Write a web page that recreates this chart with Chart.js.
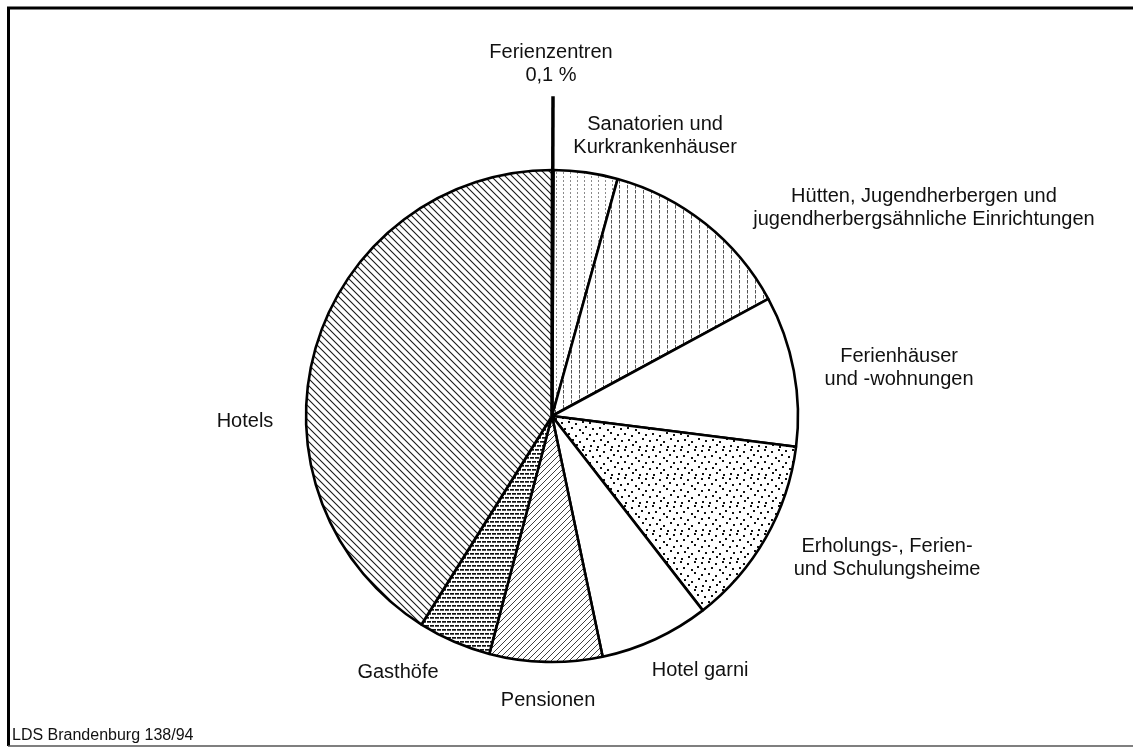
<!DOCTYPE html>
<html>
<head>
<meta charset="utf-8">
<script src="https://cdn.jsdelivr.net/npm/chart.js@4.4.0/dist/chart.umd.min.js"></script>
<style>
  html, body { margin: 0; padding: 0; background: #fff; }
  #wrap { position: relative; width: 1133px; height: 747px; }
  canvas { display: block; }
</style>
</head>
<body>
<div id="wrap"><canvas id="c" width="1133" height="747"></canvas></div>
<script>
// ---- data ----
const categories = [
  'Ferienzentren',
  'Sanatorien und Kurkrankenhäuser',
  'Hütten, Jugendherbergen und jugendherbergsähnliche Einrichtungen',
  'Ferienhäuser und -wohnungen',
  'Erholungs-, Ferien- und Schulungsheime',
  'Hotel garni',
  'Pensionen',
  'Gasthöfe',
  'Hotels'
];
const shares = [0.1, 4.2, 12.8, 9.9, 12.5, 7.2, 7.4, 4.8, 41.1];
const labelLines = [
  ['Ferienzentren', '0,1 %'],
  ['Sanatorien und', 'Kurkrankenhäuser'],
  ['Hütten, Jugendherbergen und', 'jugendherbergsähnliche Einrichtungen'],
  ['Ferienhäuser', 'und -wohnungen'],
  ['Erholungs-, Ferien-', 'und Schulungsheime'],
  ['Hotel garni'],
  ['Pensionen'],
  ['Gasthöfe'],
  ['Hotels']
];
const sourceNote = 'LDS Brandenburg 138/94';

// ---- layout (label anchor offsets from pie centre, in radii) ----
const labelOffsets = [
  [-0.004, -1.455], [0.419, -1.163], [1.512, -0.870], [1.411, -0.220],
  [1.362, 0.553], [0.602, 1.057], [-0.016, 1.179], [-0.626, 1.065], [-1.248, 0.045]
];

const canvas = document.getElementById('c');
const ctx = canvas.getContext('2d');

function makePattern(w, h, draw) {
  const c = document.createElement('canvas');
  c.width = w; c.height = h;
  const g = c.getContext('2d');
  g.fillStyle = '#fff';
  g.fillRect(0, 0, w, h);
  draw(g, w, h);
  return ctx.createPattern(c, 'repeat');
}

// Hotels: "\\\" hatching
const patHotels = makePattern(7, 7, (g, w, h) => {
  g.strokeStyle = '#1a1a1a'; g.lineWidth = 1.1;
  g.beginPath();
  g.moveTo(-1, -1); g.lineTo(w + 1, h + 1);
  g.moveTo(-1, h - 1); g.lineTo(1, h + 1);
  g.moveTo(w - 1, -1); g.lineTo(w + 1, 1);
  g.stroke();
});
// Pensionen: "///" hatching, finer
const patPension = makePattern(6, 6, (g, w, h) => {
  g.strokeStyle = '#2a2a2a'; g.lineWidth = 0.9;
  g.beginPath();
  g.moveTo(-1, h + 1); g.lineTo(w + 1, -1);
  g.moveTo(-1, 1); g.lineTo(1, -1);
  g.moveTo(w - 1, h + 1); g.lineTo(w + 1, h - 1);
  g.stroke();
});
// Gasthöfe: dense horizontal dashes
const patGast = makePattern(10, 8, (g) => {
  g.fillStyle = '#111';
  g.fillRect(0, 1, 4, 1.7); g.fillRect(5, 1, 4, 1.7);
  g.fillRect(2, 5, 4, 1.7); g.fillRect(7, 5, 3, 1.7); g.fillRect(0, 5, 1, 1.7);
});
// Erholungsheime: stipple dots
const patDots = makePattern(28, 28, (g) => {
  g.fillStyle = '#111';
  const pts = [[1,2],[8,1],[15,3],[22,1],[4,8],[11,7],[19,9],[25,6],
               [1,14],[8,13],[15,15],[22,12],[5,20],[12,19],[19,21],[26,18],
               [2,25],[9,26],[16,24],[23,26]];
  pts.forEach(p => g.fillRect(p[0], p[1], 2, 2));
});
// Sanatorien: light dotted verticals
const patSana = makePattern(7, 4, (g) => {
  g.fillStyle = '#8a8a8a';
  g.fillRect(3, 0, 1, 2);
});
// Hütten: dashed verticals
const patHuet = makePattern(8, 5, (g) => {
  g.fillStyle = '#555';
  g.fillRect(3, 0, 1, 3.5);
});

const fills = ['#000', patSana, patHuet, '#fff', patDots, '#fff', patPension, patGast, patHotels];

const decoPlugin = {
  id: 'deco',
  beforeDraw(chart) {
    const c = chart.ctx;
    c.save();
    c.fillStyle = '#fff';
    c.fillRect(0, 0, chart.width, chart.height);
    c.strokeStyle = '#000';
    c.lineWidth = 3;
    c.beginPath();
    c.moveTo(8.5, 746); c.lineTo(8.5, 8); c.lineTo(1133, 8);
    c.stroke();
    c.strokeStyle = '#555'; c.lineWidth = 1.5;
    c.beginPath(); c.moveTo(8, 746); c.lineTo(1133, 746); c.stroke();
    c.restore();
  },
  afterDatasetsDraw(chart) {
    const c = chart.ctx;
    const arcs = chart.getDatasetMeta(0).data;
    const a0 = arcs[0];
    const r = a0.outerRadius;
    const mid = (a0.startAngle + a0.endAngle) / 2;
    c.save();
    c.strokeStyle = '#000';
    c.lineWidth = 3.5;
    c.beginPath();
    c.moveTo(a0.x, a0.y);
    c.lineTo(a0.x + Math.cos(mid) * r * 1.3, a0.y + Math.sin(mid) * r * 1.3);
    c.stroke();

    c.fillStyle = '#111';
    c.font = '20px "Liberation Sans", Arial, Helvetica, sans-serif';
    c.textAlign = 'center';
    c.textBaseline = 'alphabetic';
    labelLines.forEach((lines, i) => {
      const x = a0.x + labelOffsets[i][0] * r;
      const y = a0.y + labelOffsets[i][1] * r;
      lines.forEach((t, j) => c.fillText(t, x, y + j * 23));
    });
    c.font = '16px "Liberation Sans", Arial, Helvetica, sans-serif';
    c.textAlign = 'left';
    c.fillText(sourceNote, 12, 740);
    c.restore();
  }
};

new Chart(ctx, {
  type: 'pie',
  data: {
    labels: categories,
    datasets: [{
      data: shares,
      backgroundColor: fills,
      borderColor: '#000',
      borderWidth: 2.6,
      hoverOffset: 0
    }]
  },
  options: {
    responsive: false,
    animation: false,
    radius: 246,
    layout: { padding: { left: 0, right: 29, top: 85, bottom: 0 } },
    plugins: { legend: { display: false }, tooltip: { enabled: false } },
    events: []
  },
  plugins: [decoPlugin]
});
</script>
</body>
</html>
